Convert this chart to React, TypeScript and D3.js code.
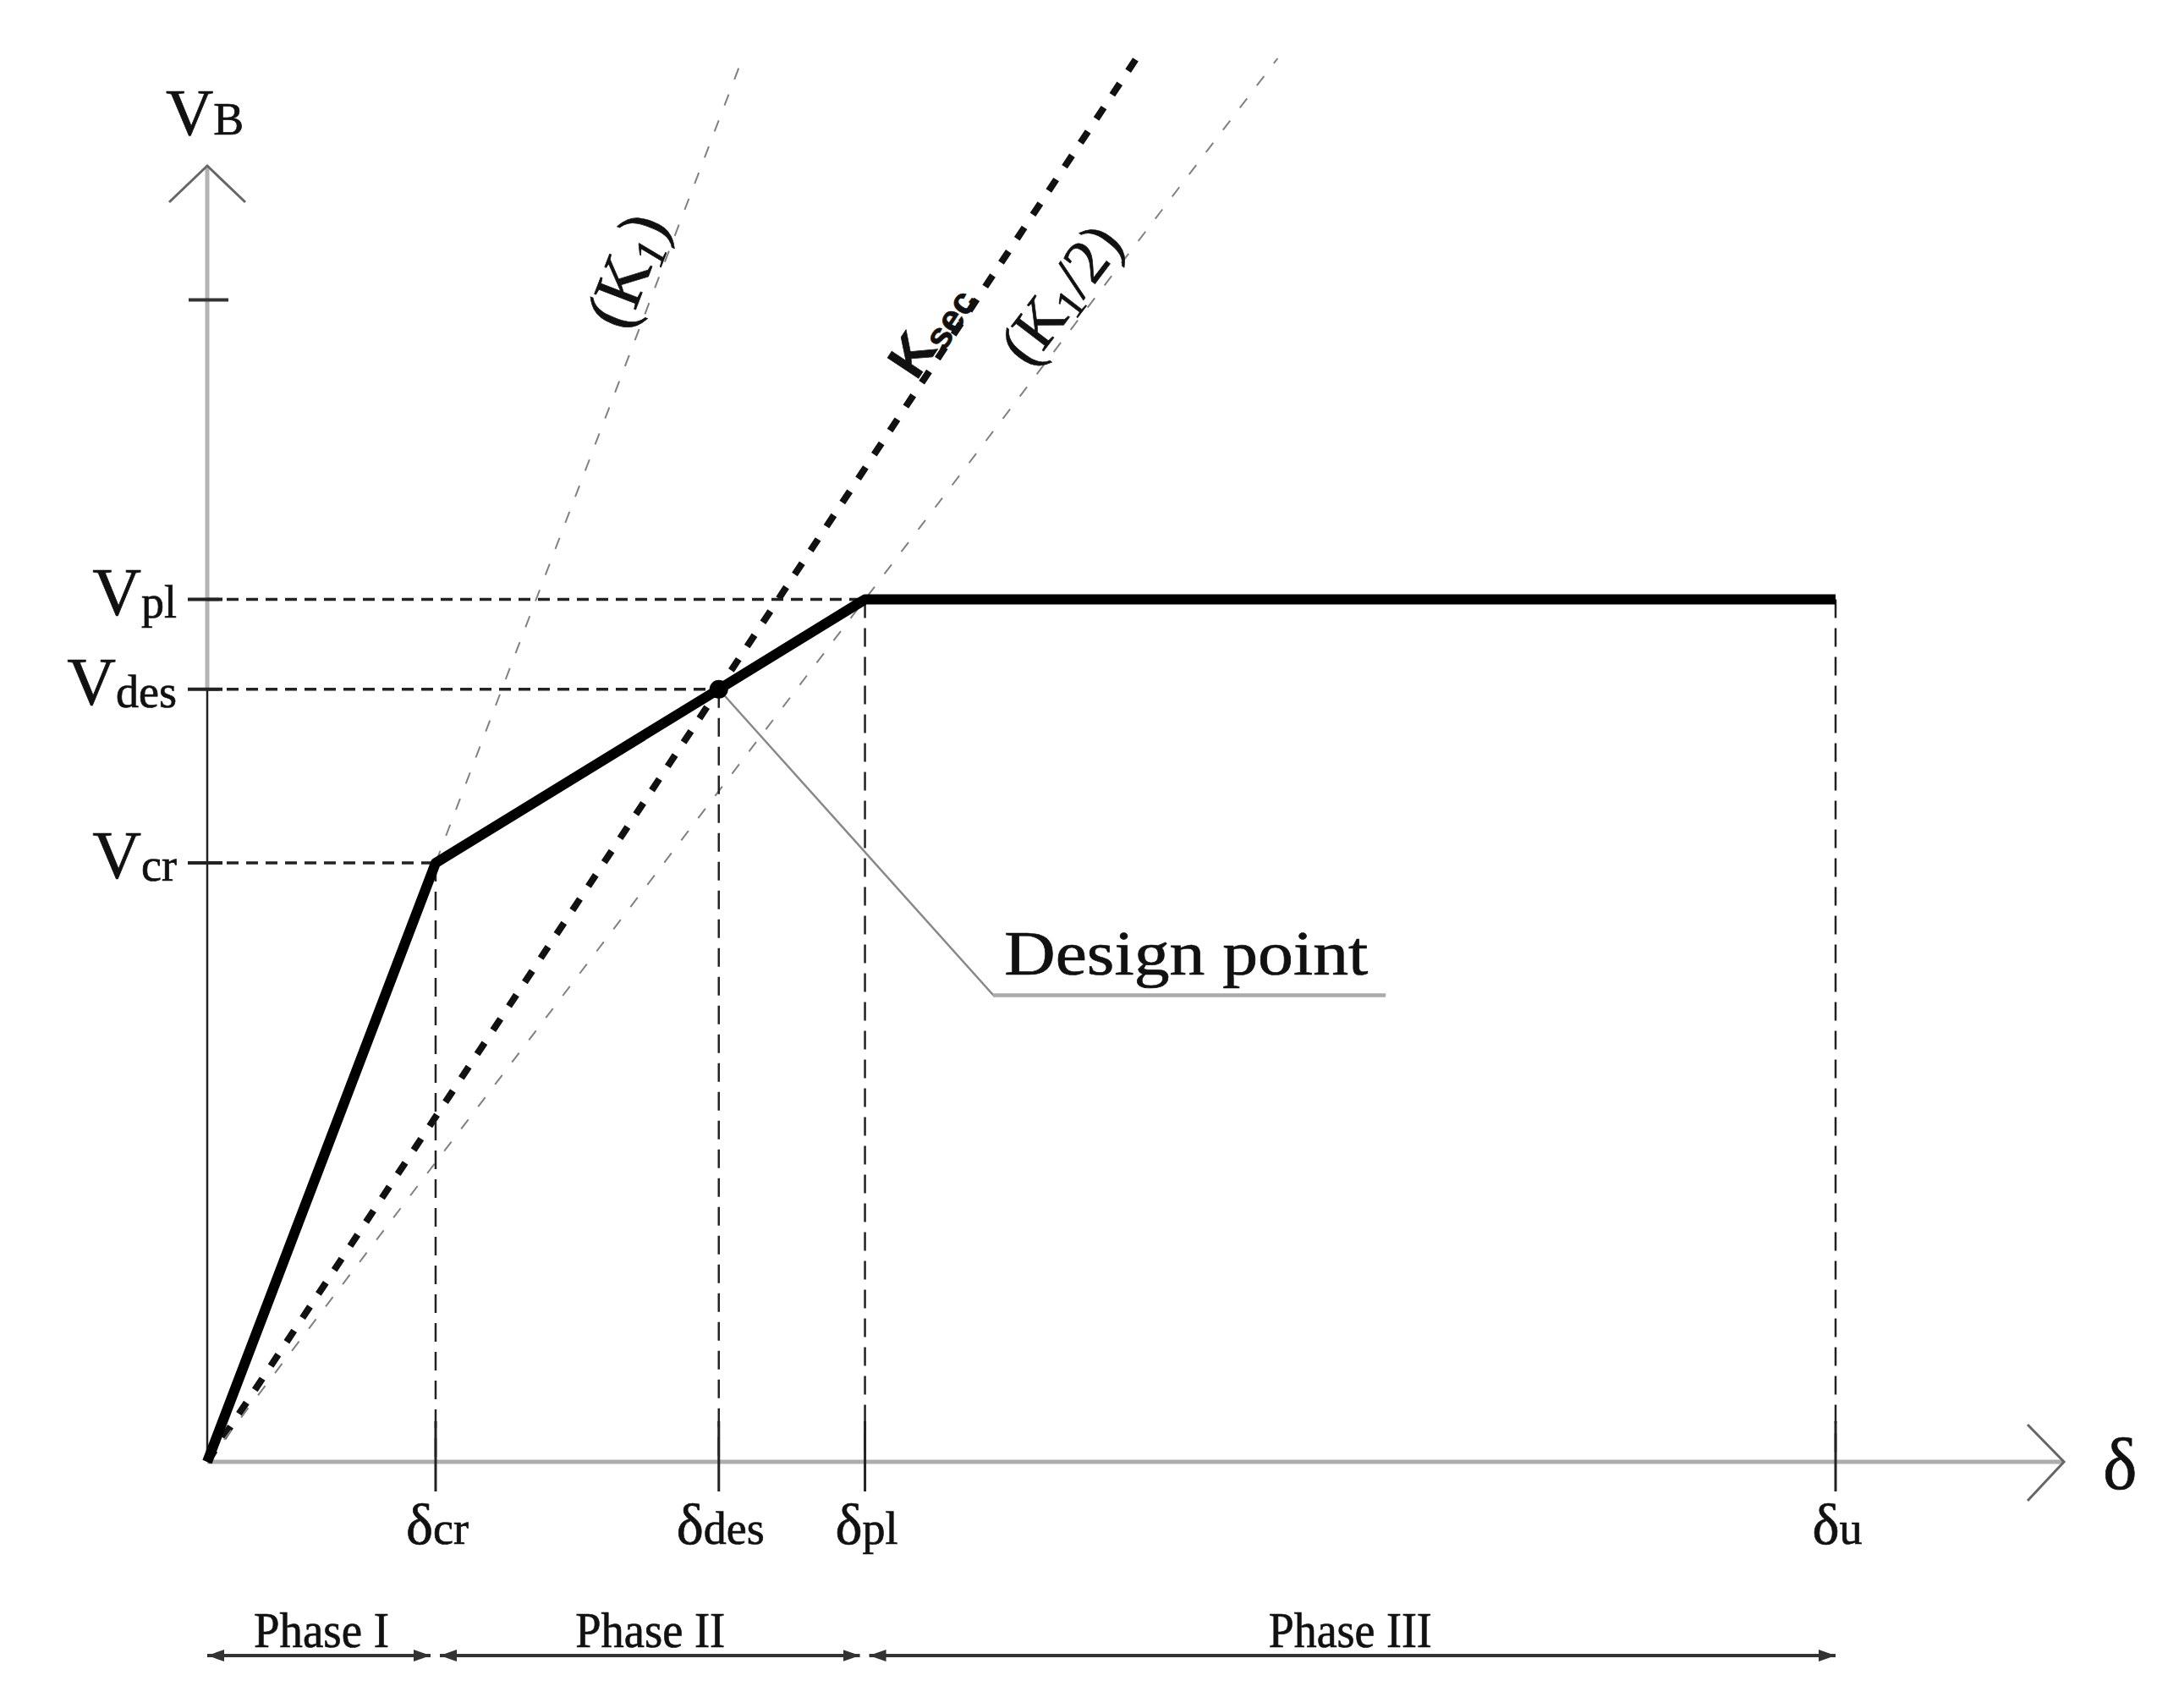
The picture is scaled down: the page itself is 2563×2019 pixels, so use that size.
import React, { useEffect, useRef } from 'react';
import * as d3 from 'd3';

const W = 2563;
const H = 2019;

// capacity curve: origin, cracking, design, plastic, ultimate (δ and V normalised by δcr, Vcr)
const pointNames = ['0', 'cr', 'des', 'pl', 'u'];
const deltaValues = [0, 1.0, 2.24, 2.88, 7.13];
const shearValues = [0, 1.0, 1.29, 1.44, 1.44];

// stiffness reference lines
const stiffNames = ['K1', 'Ksec', 'K1/2'];
const stiffSlopes = [1.0, 0.576, 0.5];
const stiffLabelV = [1.97, 1.87, 1.92];

const topTickV = 1.94;
const phaseNames = ['Phase I', 'Phase II', 'Phase III'];
const phaseBounds = [0, 1.0, 2.88, 7.13];
const phaseWidths = [160, 177, 193];

// leader of the "Design point" note (data units)
const leaderDelta = [2.24, 3.44, 5.16];
const leaderV = [1.29, 0.78, 0.78];

const serif = '"Liberation Serif", "Times New Roman", serif';
const sans = '"Liberation Sans", Arial, sans-serif';

const App = () => {
  const svgRef = useRef(null);

  useEffect(() => {
    const svg = d3.select(svgRef.current);
    svg.selectAll('*').remove();

    const x = d3.scaleLinear().domain([0, 8.13]).range([245, 2440]);
    const y = d3.scaleLinear().domain([0, 2.164]).range([1728, 196]);
    const x0 = x(0);
    const y0 = y(0);
    const lineTopV = y.invert(69);

    svg.append('rect').attr('width', W).attr('height', H).attr('fill', '#fff');

    const defs = svg.append('defs');
    const mk = (id, d) => defs.append('marker')
      .attr('id', id)
      .attr('viewBox', '0 0 20 14')
      .attr('refX', id === 'arrEnd' ? 20 : 0)
      .attr('refY', 7)
      .attr('markerWidth', 20)
      .attr('markerHeight', 14)
      .attr('markerUnits', 'userSpaceOnUse')
      .attr('orient', 'auto')
      .append('path')
      .attr('d', d)
      .attr('fill', '#333');
    mk('arrEnd', 'M0,0 L20,7 L0,14 Z');
    mk('arrStart', 'M20,0 L0,7 L20,14 Z');

    const g = svg.append('g');

    // x axis
    const xEnd = x(8.13);
    g.append('line')
      .attr('x1', x0).attr('x2', xEnd).attr('y1', y0).attr('y2', y0)
      .attr('stroke', '#adadad').attr('stroke-width', 5);
    g.append('path')
      .attr('d', `M${xEnd - 43},${y0 - 44} L${xEnd},${y0} L${xEnd - 43},${y0 + 46}`)
      .attr('fill', 'none').attr('stroke', '#666').attr('stroke-width', 3);

    // y axis: gray above V_des, black below
    const yEnd = y(2.164);
    g.append('line')
      .attr('x1', x0).attr('x2', x0).attr('y1', y(shearValues[2])).attr('y2', yEnd)
      .attr('stroke', '#b3b3b3').attr('stroke-width', 5);
    g.append('line')
      .attr('x1', x0).attr('x2', x0).attr('y1', y0).attr('y2', y(shearValues[2]))
      .attr('stroke', '#222').attr('stroke-width', 2.5);
    g.append('path')
      .attr('d', `M${x0 - 45},${yEnd + 43} L${x0},${yEnd} L${x0 + 45},${yEnd + 43}`)
      .attr('fill', 'none').attr('stroke', '#666').attr('stroke-width', 3);
    g.append('line')
      .attr('x1', x0 - 22).attr('x2', x0 + 25).attr('y1', y(topTickV)).attr('y2', y(topTickV))
      .attr('stroke', '#333').attr('stroke-width', 4);

    // stiffness lines
    stiffNames.forEach((name, i) => {
      const bold = name === 'Ksec';
      g.append('line')
        .attr('x1', x0).attr('y1', y0)
        .attr('x2', x(lineTopV / stiffSlopes[i])).attr('y2', y(lineTopV))
        .attr('stroke', bold ? '#111' : '#808080')
        .attr('stroke-width', bold ? 8 : 2)
        .attr('stroke-dasharray', bold ? '16 18' : '14 19');
    });

    // horizontal projections
    [1, 2, 3].forEach(i => {
      const yy = y(shearValues[i]);
      g.append('line')
        .attr('x1', x0).attr('x2', x(deltaValues[i])).attr('y1', yy).attr('y2', yy)
        .attr('stroke', '#222').attr('stroke-width', 3.5).attr('stroke-dasharray', '14 9');
      g.append('line')
        .attr('x1', x0 - 23).attr('x2', x0 + 18).attr('y1', yy).attr('y2', yy)
        .attr('stroke', '#222').attr('stroke-width', 4);
    });

    // vertical projections
    [1, 2, 3, 4].forEach(i => {
      const xx = x(deltaValues[i]);
      g.append('line')
        .attr('x1', xx).attr('x2', xx).attr('y1', y(shearValues[i])).attr('y2', y0)
        .attr('stroke', '#222').attr('stroke-width', 2.5).attr('stroke-dasharray', '22 12');
      g.append('line')
        .attr('x1', xx).attr('x2', xx).attr('y1', y0 - 48).attr('y2', y0 + 35)
        .attr('stroke', '#222').attr('stroke-width', 3);
    });

    // capacity curve
    const curve = d3.line()
      .x((d) => x(d[0]))
      .y((d) => y(d[1]));
    g.append('path')
      .datum(deltaValues.map((d, i) => [d, shearValues[i]]))
      .attr('d', curve)
      .attr('fill', 'none')
      .attr('stroke', '#000')
      .attr('stroke-width', 12)
      .attr('stroke-linejoin', 'round');

    // design point + leader
    g.append('path')
      .datum(leaderDelta.map((d, i) => [d, leaderV[i]]))
      .attr('d', d3.line().x((d) => x(d[0])).y((d) => y(d[1])))
      .attr('fill', 'none').attr('stroke', '#888').attr('stroke-width', 2.5);
    g.append('line')
      .attr('x1', x(leaderDelta[1])).attr('x2', x(leaderDelta[2]))
      .attr('y1', y(leaderV[1]) + 1).attr('y2', y(leaderV[2]) + 1)
      .attr('stroke', '#aaa').attr('stroke-width', 4);
    g.append('circle')
      .attr('cx', x(deltaValues[2])).attr('cy', y(shearValues[2])).attr('r', 11)
      .attr('fill', '#000');

    const txt = g.append('g')
      .attr('fill', '#111').attr('stroke', '#111').attr('stroke-width', 0.7);

    txt.append('text')
      .attr('x', x(3.49)).attr('y', y(0.814))
      .attr('font-family', serif).attr('font-size', 74)
      .attr('textLength', 430).attr('lengthAdjust', 'spacingAndGlyphs')
      .text('Design point');

    // y labels
    [1, 2, 3].forEach(i => {
      const t = txt.append('text')
        .attr('x', x0 - 36).attr('y', y(shearValues[i]) + 18)
        .attr('text-anchor', 'end').attr('font-family', serif);
      t.append('tspan').attr('font-size', 80).text('V');
      t.append('tspan').attr('font-size', 54).attr('dy', 3).text(pointNames[i]);
    });
    const vb = txt.append('text').attr('x', 196).attr('y', 159)
      .attr('font-family', serif);
    vb.append('tspan').attr('font-size', 78).text('V');
    vb.append('tspan').attr('font-size', 54).text('B');

    // δ labels
    [1, 2, 3, 4].forEach(i => {
      const t = txt.append('text')
        .attr('x', x(deltaValues[i]) + 2).attr('y', 1825)
        .attr('text-anchor', 'middle').attr('font-family', serif);
      t.append('tspan').attr('font-size', 68).text('δ');
      t.append('tspan').attr('font-size', 54).text(pointNames[i]);
    });
    txt.append('text')
      .attr('x', 2486).attr('y', 1760)
      .attr('font-family', serif).attr('font-size', 86)
      .text('δ');

    // stiffness labels along the lines
    stiffNames.forEach((name, i) => {
      const v = stiffLabelV[i];
      const px = x(v / stiffSlopes[i]);
      const py = y(v);
      const ang = Math.atan2(py - y0, px - x0) * 180 / Math.PI;
      const t = txt.append('text')
        .attr('transform', `translate(${px},${py}) rotate(${ang})`)
        .attr('text-anchor', 'middle');
      if (name === 'Ksec') {
        t.attr('y', -6).attr('font-family', sans).attr('font-weight', 'bold');
        t.append('tspan').attr('font-size', 64).text('K');
        t.append('tspan').attr('font-size', 44).attr('dy', 8).text('sec');
      } else if (name === 'K1') {
        t.attr('y', -12).attr('font-family', serif);
        t.append('tspan').attr('font-size', 80).text('(K');
        t.append('tspan').attr('font-size', 52).attr('font-style', 'italic').attr('dy', 10).text('1');
        t.append('tspan').attr('font-size', 80).attr('dy', -10).text(')');
      } else {
        t.attr('y', -10).attr('font-family', serif);
        t.append('tspan').attr('font-size', 74).text('(K');
        t.append('tspan').attr('font-size', 50).attr('dy', 8).text('1');
        t.append('tspan').attr('font-size', 74).attr('dy', -8).text('/2)');
      }
    });

    // phases
    const phaseY = 1957;
    phaseNames.forEach((name, i) => {
      const a = x(phaseBounds[i]) + (i === 0 ? 0 : 5);
      const b = x(phaseBounds[i + 1]) - (i === phaseNames.length - 1 ? 0 : 6);
      g.append('line')
        .attr('x1', a).attr('x2', b).attr('y1', phaseY).attr('y2', phaseY)
        .attr('stroke', '#333').attr('stroke-width', 4)
        .attr('marker-start', 'url(#arrStart)').attr('marker-end', 'url(#arrEnd)');
      txt.append('text')
        .attr('x', (x(phaseBounds[i]) + x(phaseBounds[i + 1])) / 2).attr('y', 1947)
        .attr('text-anchor', 'middle').attr('font-family', serif).attr('font-size', 60)
        .attr('textLength', phaseWidths[i]).attr('lengthAdjust', 'spacingAndGlyphs')
        .text(name);
    });
  }, []);

  return (
    <svg
      ref={svgRef}
      width={W}
      height={H}
      style={{ position: 'absolute', left: 0, top: 0, display: 'block' }}
    />
  );
};

export default App;
